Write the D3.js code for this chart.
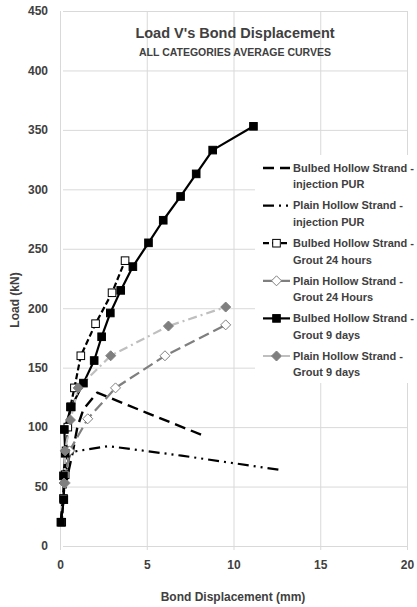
<!DOCTYPE html>
<html><head><meta charset="utf-8">
<script src="https://cdn.jsdelivr.net/npm/d3@7"></script>
<style>
html,body{margin:0;padding:0;background:#fff;}
svg{display:block;font-family:"Liberation Sans",Arial,sans-serif;}
</style></head>
<body><svg id="c" width="417" height="607"></svg>
<script>
// ---- data ----
const xTicks = [0, 5, 10, 15, 20];
const yTicks = [0, 50, 100, 150, 200, 250, 300, 350, 400, 450];

const seriesNames = [
  ["Bulbed Hollow Strand -", "injection PUR"],
  ["Plain Hollow Strand -", "injection PUR"],
  ["Bulbed Hollow Strand -", "Grout 24 hours"],
  ["Plain Hollow Strand -", "Grout 24 Hours"],
  ["Bulbed Hollow Strand -", "Grout 9 days"],
  ["Plain Hollow Strand -", "Grout 9 days"]
];

const bulbedPurX = [0.05, 0.2, 0.45, 0.75, 1.0, 1.35, 2.15, 5.0, 8.25];
const bulbedPurY = [20, 40, 60, 80, 100, 115, 129, 112, 93];

const plainPurX = [0.05, 0.15, 0.3, 0.6, 2.8, 7.0, 12.7];
const plainPurY = [20, 40, 60, 79, 84, 76, 64];

const bulbed24X = [0.1, 0.2, 0.3, 0.35, 0.45, 0.6, 0.83, 1.2, 2.05, 3.0, 3.75];
const bulbed24Y = [20, 40, 60, 80, 100, 117, 133, 160, 187, 213, 240];

const plain24X = [0.3, 0.55, 1.6, 3.2, 6.05, 9.55];
const plain24Y = [53, 80, 107, 133, 160, 186];

const bulbed9X = [0.05, 0.22, 0.2, 0.3, 0.25, 0.65, 1.35, 1.97, 2.4, 2.9, 3.5, 4.2, 5.1, 5.95, 6.95, 7.85, 8.8, 11.15];
const bulbed9Y = [20, 39, 59, 78, 98, 117, 137, 156, 176, 196, 215, 235, 255, 274, 294, 313, 333, 353];

const plain9X = [0.23, 0.3, 0.6, 1.05, 2.92, 6.25, 9.55];
const plain9Y = [53, 80, 106, 133, 160, 185, 201];

// ---- styles ----
const styles = [
  {color: "#000", width: 2.4, dash: "11,6", marker: null},
  {color: "#000", width: 2.2, dash: "11,5,2,5,2,5", marker: null},
  {color: "#000", width: 2.2, dash: "6,3", marker: "squareOpen"},
  {color: "#7f7f7f", width: 2.2, dash: "11,5", marker: "diamondOpen"},
  {color: "#000", width: 2.2, dash: null, marker: "square"},
  {color: "#bfbfbf", width: 2.2, dash: "9,4,2,4", marker: "diamond"}
];
const seriesX = [bulbedPurX, plainPurX, bulbed24X, plain24X, bulbed9X, plain9X];
const seriesY = [bulbedPurY, plainPurY, bulbed24Y, plain24Y, bulbed9Y, plain9Y];

const svg = d3.select("#c");
const x = d3.scaleLinear().domain([0, 20]).range([60, 407]);
const y = d3.scaleLinear().domain([0, 450]).range([546, 11]);

// gridlines + tick labels
const gy = svg.append("g").attr("transform", "translate(60,0)")
  .call(d3.axisLeft(y).tickValues(yTicks).tickSize(-347).tickSizeOuter(0).tickPadding(12));
gy.select(".domain").remove();
gy.selectAll("line").attr("stroke", "#d9d9d9").attr("x1", 3);
gy.selectAll("text").attr("fill", "#404040").attr("font-size", 12).attr("font-weight", "bold");

const gx = svg.append("g").attr("transform", "translate(0,546)")
  .call(d3.axisBottom(x).tickValues(xTicks).tickSize(-535).tickSizeOuter(0).tickPadding(14));
gx.select(".domain").remove();
gx.selectAll("line").attr("stroke", "#d9d9d9").attr("y1", 4);
gx.selectAll("text").attr("fill", "#404040").attr("font-size", 12).attr("font-weight", "bold");

// legend background
svg.append("rect").attr("x", 255).attr("y", 155).attr("width", 162).attr("height", 228).attr("fill", "#fff");

// marker drawer
function drawMarker(g, type, cx, cy) {
  if (type === "square" || type === "squareOpen") {
    g.append("rect").attr("x", cx - 3.8).attr("y", cy - 3.8).attr("width", 7.6).attr("height", 7.6)
      .attr("fill", type === "square" ? "#000" : "#fff").attr("stroke", "#000").attr("stroke-width", 1);
  } else if (type === "diamond" || type === "diamondOpen") {
    const r = 5;
    g.append("path").attr("d", `M${cx},${cy - r}L${cx + r},${cy}L${cx},${cy + r}L${cx - r},${cy}Z`)
      .attr("fill", type === "diamond" ? "#7f7f7f" : "#fff").attr("stroke", "#7f7f7f").attr("stroke-width", 1);
  }
}

const line = d3.line().x(d => x(d[0])).y(d => y(d[1]));
const plot = svg.append("g");
seriesX.forEach((xs, i) => {
  const pts = xs.map((v, j) => [v, seriesY[i][j]]);
  const st = styles[i];
  plot.append("path").datum(pts).attr("d", line).attr("fill", "none")
    .attr("stroke", st.color).attr("stroke-width", st.width)
    .attr("stroke-dasharray", st.dash).attr("stroke-linejoin", "round");
});
seriesX.forEach((xs, i) => {
  const st = styles[i];
  if (!st.marker) return;
  const mg = plot.append("g");
  xs.forEach((v, j) => drawMarker(mg, st.marker, x(v), y(seriesY[i][j])));
});

// legend
const lg = svg.append("g");
seriesNames.forEach((nm, i) => {
  const cy = 168 + i * 37.6;
  const st = styles[i];
  lg.append("line").attr("x1", 263).attr("x2", 290).attr("y1", cy).attr("y2", cy)
    .attr("stroke", st.color).attr("stroke-width", st.width).attr("stroke-dasharray", st.dash);
  if (st.marker) drawMarker(lg, st.marker, 276.5, cy);
  nm.forEach((t, k) => {
    lg.append("text").attr("x", 293).attr("y", cy + k * 16.5).attr("dy", "0.35em")
      .attr("font-size", 11).attr("font-weight", "bold").attr("fill", "#404040").text(t);
  });
});

// titles
svg.append("text").attr("x", 235).attr("y", 33).attr("dy", "0.35em").attr("text-anchor", "middle")
  .attr("font-size", 14.5).attr("font-weight", "bold").attr("fill", "#404040").text("Load V's Bond Displacement");
svg.append("text").attr("x", 235).attr("y", 52).attr("dy", "0.35em").attr("text-anchor", "middle")
  .attr("font-size", 10.5).attr("font-weight", "bold").attr("fill", "#404040").text("ALL CATEGORIES AVERAGE CURVES");
svg.append("text").attr("x", 233).attr("y", 597).attr("dy", "0.35em").attr("text-anchor", "middle")
  .attr("font-size", 12).attr("font-weight", "bold").attr("fill", "#404040").text("Bond Displacement (mm)");
svg.append("text").attr("transform", "translate(15,300) rotate(-90)").attr("dy", "0.35em").attr("text-anchor", "middle")
  .attr("font-size", 12).attr("font-weight", "bold").attr("fill", "#404040").text("Load (kN)");
</script></body></html>
